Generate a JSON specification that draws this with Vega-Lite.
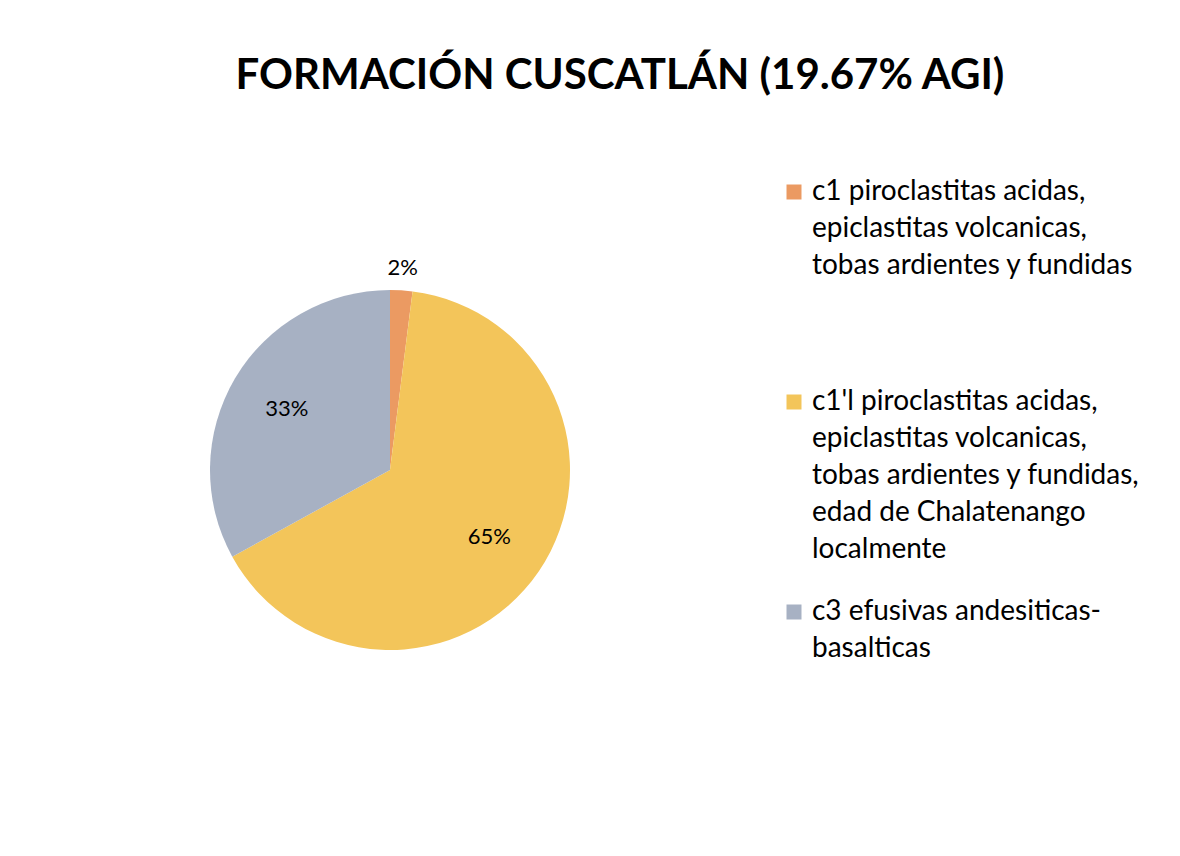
{
  "$schema": "https://vega.github.io/schema/vega-lite/v6.json",
  "autosize": "none",
  "width": 760,
  "height": 940,
  "padding": {"left": 10, "top": 0, "right": 410, "bottom": 0},
  "background": "white",
  "title": {
    "text": "FORMACIÓN CUSCATLÁN (19.67% AGI)",
    "font": "Lato",
    "fontSize": 42,
    "fontWeight": "bold",
    "color": "black",
    "anchor": "middle",
    "dx": 230,
    "offset": -131,
    "baseline": "alphabetic"
  },
  "data": {
    "values": [
      {"k": 1, "formacion": "c1 piroclastitas acidas,\nepiclastitas volcanicas,\ntobas ardientes y fundidas", "pct": 2, "lab": "2%"},
      {"k": 2, "formacion": "c1'l piroclastitas acidas,\nepiclastitas volcanicas,\ntobas ardientes y fundidas,\nedad de Chalatenango\nlocalmente", "pct": 65, "lab": "65%"},
      {"k": 3, "formacion": "c3 efusivas andesiticas-\nbasalticas", "pct": 33, "lab": "33%"}
    ]
  },
  "encoding": {
    "theta": {"field": "pct", "type": "quantitative", "stack": true},
    "order": {"field": "k", "type": "quantitative"}
  },
  "layer": [
    {
      "mark": {"type": "arc", "outerRadius": 180},
      "encoding": {
        "color": {
          "field": "formacion",
          "type": "nominal",
          "sort": null,
          "scale": {"range": ["#EB9A62", "#F3C55A", "#A7B1C3"]},
          "legend": {
            "title": null,
            "orient": "none",
            "legendX": 770,
            "legendY": 178,
            "labelExpr": "split(datum.label, '\\n')",
            "labelFont": "Lato",
            "labelFontSize": 28,
            "labelColor": "black",
            "labelLimit": 400,
            "symbolType": "square",
            "symbolSize": 225,
            "symbolStrokeWidth": 0,
            "labelOffset": 4,
            "columns": 1,
            "gridAlign": "all",
            "rowPadding": 34,
            "encode": {"labels": {"update": {"lineHeight": {"value": 37}}}}
          }
        }
      }
    },
    {
      "mark": {"type": "text", "radius": 202, "font": "Lato", "fontSize": 22, "color": "black"},
      "encoding": {
        "text": {"condition": {"test": "datum.pct < 5", "field": "lab"}, "value": ""}
      }
    },
    {
      "mark": {"type": "text", "radius": 120, "font": "Lato", "fontSize": 22, "color": "black"},
      "encoding": {
        "text": {"condition": {"test": "datum.pct >= 5", "field": "lab"}, "value": ""}
      }
    }
  ],
  "config": {"view": {"stroke": null}}
}
